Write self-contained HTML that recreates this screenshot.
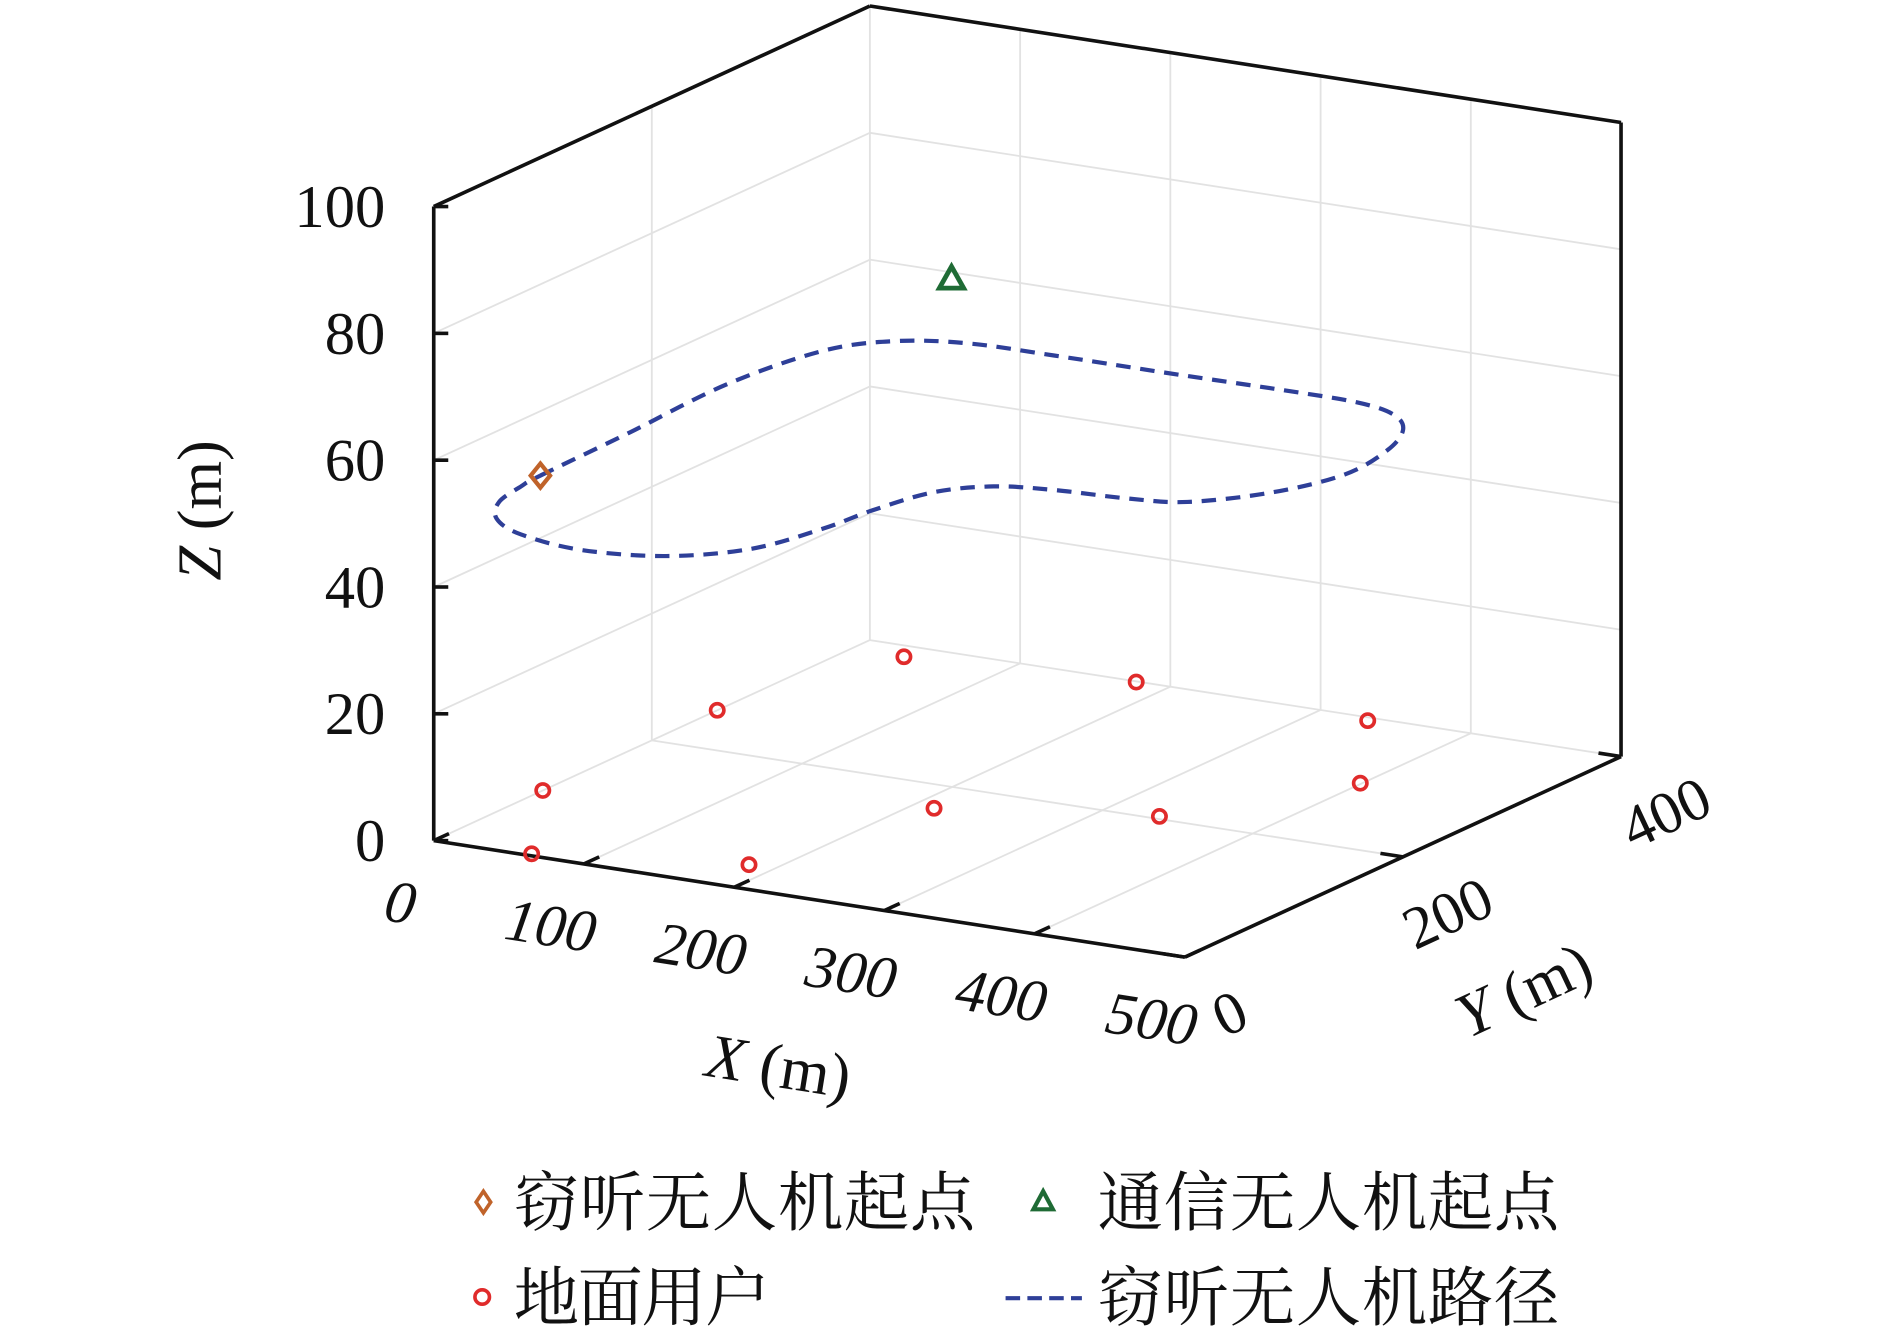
<!DOCTYPE html>
<html><head><meta charset="utf-8"><style>
html,body{margin:0;padding:0;background:#fff;}
svg{display:block;}
text{font-family:"Liberation Serif","Noto Serif CJK SC",serif;fill:#111;}
.cjk{font-family:"Liberation Serif","Noto Serif CJK SC",serif;}
</style></head><body>
<svg id="chart" width="1890" height="1333" viewBox="0 0 1560 1110" preserveAspectRatio="none" xmlns="http://www.w3.org/2000/svg">
<g id="grid"></g>
<g id="frame"></g>
<g id="marks"></g>
<g id="labels"></g>
<g id="legend">
  <path d="M399,992 L405,1001 L399,1010 L393,1001 Z" fill="none" stroke="#c0632a" stroke-width="3"/>
  <text class="cjk" x="424" y="1020" font-size="54" textLength="381">窃听无人机起点</text>
  <path d="M861,992 L869,1007 L853,1007 Z" fill="none" stroke="#1f6b35" stroke-width="3.5"/>
  <text class="cjk" x="906" y="1020" font-size="54" textLength="381">通信无人机起点</text>
  <circle cx="398" cy="1080" r="6" fill="none" stroke="#e02b2b" stroke-width="3"/>
  <text class="cjk" x="424" y="1099" font-size="54" textLength="212">地面用户</text>
  <line x1="830" y1="1081" x2="893" y2="1081" stroke="#2e3f98" stroke-width="3.5" stroke-dasharray="12,6"/>
  <text class="cjk" x="906" y="1099" font-size="54" textLength="381">窃听无人机路径</text>
</g>
</svg>
<script>
const xTicks = [0,100,200,300,400,500];
const yTicks = [0,200,400];
const zTicks = [0,20,40,60,80,100];
const pathX = [1.1,-1.1,-4.9,6.9,32.8,71.5,126.8,199.2,279.1,328.2,359.4,381.1,395.3,400.3,383.5,351.7,317.6,272.4,238.3,214.6,204.0,199.3,185.3,150.9,102.1,55.2,26.2,9.1,3.2];
const pathY = [96.3,181.5,275.5,348.2,379.3,392.5,394.2,394.3,395.5,394.4,384.8,363.9,329.8,284.1,240.4,206.6,197.9,193.6,184.9,161.9,121.1,83.1,35.8,5.4,-5.2,4.0,21.7,47.4,75.7];
const pathZ = 50;
const userX = [63,183,0,0,35,214,178,335,335,399];
const userY = [3,37,100,260,383,164,399,204,395,300];
const eveStart = [1.1,96.3,50];
const commStart = [267,107,90];

function P(x,y,z){return [358+x*1.24+y*0.9, 700+x*0.194-y*0.4175-z*5.28];}
const NS='http://www.w3.org/2000/svg';
function mk(tag,attrs,parent){const e=document.createElementNS(NS,tag);for(const k in attrs)e.setAttribute(k,attrs[k]);parent.appendChild(e);return e;}
const grid=document.getElementById('grid'),frame=document.getElementById('frame'),marks=document.getElementById('marks'),labels=document.getElementById('labels');
function ln(a,b,parent,stroke,w,name){const e=mk('line',{x1:a[0],y1:a[1],x2:b[0],y2:b[1],stroke:stroke,'stroke-width':w},parent);return e;}
const G='#e2e2e2';
zTicks.forEach(z=>{if(z===0)return;ln(P(0,0,z),P(0,400,z),grid,G,1.5,'z-grid-left');ln(P(0,400,z),P(500,400,z),grid,G,1.5,'z-grid-back');});
[100,200,300,400].forEach(x=>{ln(P(x,0,0),P(x,400,0),grid,G,1.5,'x-grid-floor');ln(P(x,400,0),P(x,400,100),grid,G,1.5,'x-grid-back');});
ln(P(0,200,0),P(500,200,0),grid,G,1.5,'y-grid-floor');
ln(P(0,200,0),P(0,200,100),grid,G,1.5,'y-grid-left');
ln(P(0,400,0),P(0,400,100),grid,G,1.5,'back-corner-edge');
ln(P(0,400,0),P(0,0,0),grid,G,1.5,'floor-left-edge');
ln(P(0,400,0),P(500,400,0),grid,G,1.5,'floor-back-edge');
const K='#111';
ln(P(0,0,0),P(0,0,100),frame,K,3,'z-axis-line');
ln(P(0,0,0),P(500,0,0),frame,K,3,'x-axis-line');
ln(P(500,0,0),P(500,400,0),frame,K,3,'y-axis-line');
ln(P(500,400,0),P(500,400,100),frame,K,3,'frame-right-edge');
ln(P(500,400,100),P(0,400,100),frame,K,3,'frame-top-back');
ln(P(0,400,100),P(0,0,100),frame,K,3,'frame-top-left');
zTicks.forEach(z=>{const a=P(0,0,z);ln(a,[a[0]+12,a[1]],frame,K,3,'z-tick');});
xTicks.forEach(x=>{const a=P(x,0,0),b=P(x,14,0);ln(a,b,frame,K,3,'x-tick');});
yTicks.forEach(y=>{const a=P(500,y,0),b=P(485,y,0);ln(a,b,frame,K,3,'y-tick');});
zTicks.forEach(z=>{const a=P(0,0,z);const t=mk('text',{x:318,y:a[1]+17,'font-size':50,'text-anchor':'end'},labels);t.textContent=z;});
xTicks.forEach(x=>{const a=P(x,0,0);const cx=a[0]-30,cy=a[1]+68;const t=mk('text',{x:cx,y:cy,'font-size':50,'text-anchor':'middle','font-style':'italic',transform:`rotate(9 ${cx} ${cy})`},labels);t.textContent=x;});
yTicks.forEach(y=>{const a=P(500,y,0);const cx=a[0]+44,cy=a[1]+62;const t=mk('text',{x:cx,y:cy,'font-size':50,'text-anchor':'middle',transform:`rotate(-25 ${cx} ${cy})`},labels);t.textContent=y;});
function title(txt,x,y,rot,name){const t=mk('text',{x:x,y:y,'font-size':52,'text-anchor':'middle',transform:`rotate(${rot} ${x} ${y})`},labels);t.innerHTML='<tspan font-style="italic">'+txt+'</tspan> (m)';}
title('X',640,905,9,'x-axis-title');
title('Y',1265,840,-25,'y-axis-title');
title('Z',182,425,-90,'z-axis-title');
const pts=pathX.map((x,i)=>P(x,pathY[i],pathZ));
const n=pts.length;let d=`M${pts[0][0]},${pts[0][1]}`;
for(let i=0;i<n;i++){const p0=pts[(i-1+n)%n],p1=pts[i],p2=pts[(i+1)%n],p3=pts[(i+2)%n];
d+=` C${p1[0]+(p2[0]-p0[0])/6},${p1[1]+(p2[1]-p0[1])/6} ${p2[0]-(p3[0]-p1[0])/6},${p2[1]-(p3[1]-p1[1])/6} ${p2[0]},${p2[1]}`;}
const path=mk('path',{d:d,fill:'none',stroke:'#2e3f98','stroke-width':3.5,'stroke-dasharray':'12,8'},marks);


userX.forEach((x,i)=>{const a=P(x,userY[i],0);const c=mk('circle',{cx:a[0],cy:a[1],r:5.5,fill:'none',stroke:'#e02b2b','stroke-width':3},marks);});
const e=P(eveStart[0],eveStart[1],eveStart[2]);
const dm=mk('path',{d:`M${e[0]},${e[1]-10} L${e[0]+8},${e[1]} L${e[0]},${e[1]+10} L${e[0]-8},${e[1]} Z`,fill:'none',stroke:'#c0632a','stroke-width':3.5},marks);


const c=P(commStart[0],commStart[1],commStart[2]);
const tr=mk('path',{d:`M${c[0]},${c[1]-10} L${c[0]+10},${c[1]+8} L${c[0]-10},${c[1]+8} Z`,fill:'none',stroke:'#1f6b35','stroke-width':4},marks);


</script>
</body></html>
